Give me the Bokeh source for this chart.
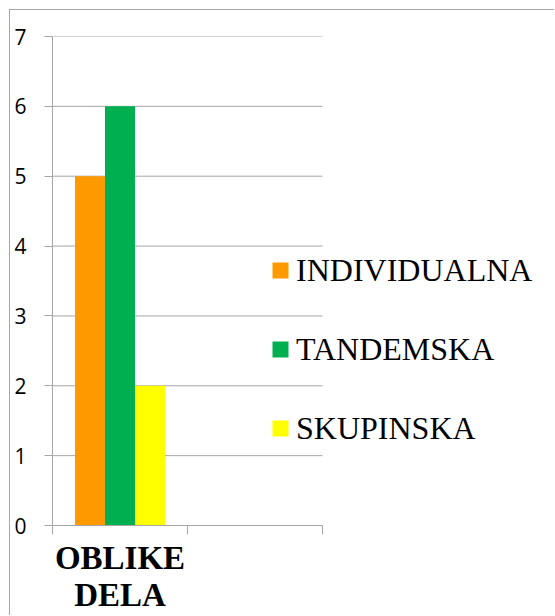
from bokeh.plotting import figure
from bokeh.models import Range1d, FixedTicker, Legend, LegendItem, ColumnDataSource
from bokeh.embed import file_html
from bokeh.resources import INLINE

# ---- data ----
categories = ["OBLIKE DELA", ""]          # second slot is an empty category
series_names = ["INDIVIDUALNA", "TANDEMSKA", "SKUPINSKA"]
individualna = [5]
tandemska = [6]
skupinska = [2]
series_colors = ["#FF9900", "#00B050", "#FFFF00"]
y_ticks = [0, 1, 2, 3, 4, 5, 6, 7]

GRAY = "#a6a6a6"
SANS = "Open Sans"
SERIF = "Liberation Serif"

# layout: plot area is 270px for the two category slots; the frame continues
# to the right to host the legend
W, H = 545, 606
LEFT, TOP, BOTTOM = 42, 26, 91
frame_w = W - LEFT
slot_px = 135
x_end = frame_w / slot_px

p = figure(width=W, height=H, output_backend="svg", toolbar_location=None,
           x_range=Range1d(0, x_end), y_range=Range1d(0, y_ticks[-1]),
           min_border_left=LEFT, min_border_top=TOP, min_border_right=0,
           min_border_bottom=BOTTOM)
p.styles = {"border-top": f"1px solid {GRAY}", "border-left": f"1px solid {GRAY}",
            "margin-left": "9px", "margin-top": "9px"}
p.outline_line_color = None
p.xgrid.visible = False
p.ygrid.visible = False

# horizontal gridlines limited to the category area
n = len(categories)
p.segment(x0=[0] * len(y_ticks), x1=[n] * len(y_ticks), y0=y_ticks, y1=y_ticks,
          line_color=GRAY, line_width=1)

bar_w = 30 / 135
series_values = [individualna, tandemska, skupinska]
renderers = []
for k, (name, vals, col) in enumerate(zip(series_names, series_values, series_colors)):
    src = ColumnDataSource(dict(x=[i + 0.5 + (k - 1) * bar_w for i in range(len(vals))],
                                top=vals))
    r = p.vbar(x="x", top="top", width=bar_w, bottom=0, source=src,
               fill_color=col, line_color=None)
    renderers.append(r)

# y axis
p.yaxis.ticker = FixedTicker(ticks=y_ticks)
p.yaxis.axis_line_color = GRAY
p.yaxis.major_tick_line_color = GRAY
p.yaxis.major_tick_out = 8
p.yaxis.major_tick_in = 0
p.yaxis.minor_tick_line_color = None
p.yaxis.major_label_standoff = 18
p.yaxis.major_label_text_font = SANS
p.yaxis.major_label_text_font_size = "21px"
p.yaxis.major_label_text_color = "black"

# x axis: category label at centre, boundary ticks as minor ticks
centers = [i + 0.5 for i in range(n)]
bounds = list(range(n + 1))
p.xaxis.bounds = (0, n)
p.xaxis.ticker = FixedTicker(ticks=centers[:1], minor_ticks=bounds)
p.xaxis.major_label_overrides = {centers[0]: categories[0].replace(" ", "\n")}
p.xaxis.axis_line_color = GRAY
p.xaxis.major_tick_line_color = None
p.xaxis.minor_tick_line_color = GRAY
p.xaxis.minor_tick_out = 9
p.xaxis.minor_tick_in = 0
p.xaxis.major_label_standoff = 5
p.xaxis.major_label_text_font = SERIF
p.xaxis.major_label_text_font_style = "bold"
p.xaxis.major_label_text_font_size = "33px"
p.xaxis.major_label_text_line_height = 1.05
p.xaxis.major_label_text_color = "black"

legend = Legend(items=[LegendItem(label=s, renderers=[r]) for s, r in zip(series_names, renderers)],
                location=(218, 77), orientation="vertical",
                glyph_width=20, glyph_height=20, label_standoff=6,
                label_height=40, spacing=39, padding=0, margin=0,
                label_text_font=SERIF, label_text_font_size="32px",
                label_text_color="black",
                background_fill_alpha=0, border_line_color=None)
p.add_layout(legend)

open("out.html", "w").write(file_html(p, INLINE))
